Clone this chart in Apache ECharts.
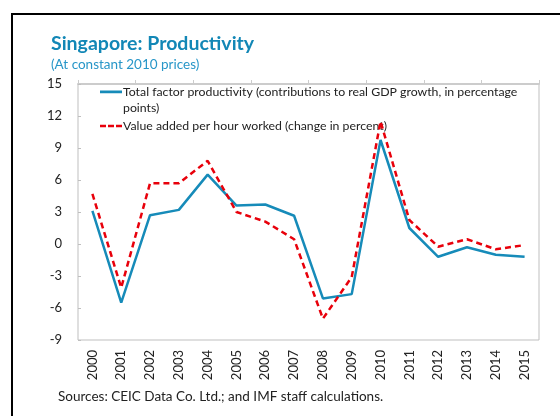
<!DOCTYPE html>
<html>
<head>
<meta charset="utf-8">
<script src="https://cdn.jsdelivr.net/npm/echarts@6/dist/echarts.min.js"></script>
<style>
  html, body { margin: 0; padding: 0; background: #fff; }
  #chart { width: 560px; height: 416px; }
</style>
</head>
<body>
<div id="chart"></div>
<script>
const years = ["2000", "2001", "2002", "2003", "2004", "2005", "2006", "2007",
  "2008", "2009", "2010", "2011", "2012", "2013", "2014", "2015"];
const tfp = [3.1, -5.5, 2.7, 3.2, 6.5, 3.6, 3.7, 2.65, -5.1, -4.7, 9.75, 1.5, -1.2, -0.3, -1.0, -1.2];
const valueAdded = [4.7, -4.1, 5.7, 5.7, 7.8, 3.0, 2.1, 0.45, -7.0, -3.1, 11.5, 2.25, -0.25, 0.45, -0.5, -0.1];
const tfpName = "Total factor productivity (contributions to real GDP growth, in percentage\npoints)";
const vaName = "Value added per hour worked (change in percent)";

const FONT = "Lato";
// legend icons are 22x32 boxes: tiny corner dots fix the box, the bar sits on the text line
const CORNERS = "M0,0h0.01v0.01h-0.01z M21.99,31.99h0.01v0.01h-0.01z ";
const solidIcon = "path://" + CORNERS + "M0,6.6h22v2.6h-22z";
const dashIcon = "path://" + CORNERS + "M0,14.7h6v2.6h-6z M8,14.7h6v2.6h-6z M16,14.7h6v2.6h-6z";

const legendBase = {
  orient: "vertical",
  left: 100,
  padding: 0,
  itemWidth: 22,
  itemHeight: 32,
  textStyle: { fontFamily: FONT, fontSize: 12.3, color: "#222", lineHeight: 16, padding: [0, 0, 0, -4] },
};

const chart = echarts.init(document.getElementById("chart"));

chart.setOption({
  animation: false,
  textStyle: { fontFamily: FONT },
  title: {
    text: "Singapore: Productivity",
    subtext: "(At constant 2010 prices)",
    left: 51,
    top: 34,
    itemGap: 4,
    padding: 0,
    textStyle: { fontFamily: FONT, fontSize: 19.5, fontWeight: "bold", color: "#1287b6" },
    subtextStyle: { fontFamily: FONT, fontSize: 13.5, color: "#2796c8" },
  },
  graphic: [
    {
      type: "rect",
      silent: true,
      shape: { x: 12, y: 14, width: 600, height: 500 },
      style: { fill: "none", stroke: "#000", lineWidth: 2 },
    },
    {
      type: "text",
      left: 58,
      top: 390,
      style: {
        text: "Sources: CEIC Data Co. Ltd.; and IMF staff calculations.",
        font: "13.5px " + FONT,
        fill: "#222",
      },
    },
  ],
  legend: [
    Object.assign({}, legendBase, { top: 84, data: [{ name: tfpName, icon: solidIcon }] }),
    Object.assign({}, legendBase, { top: 110, data: [{ name: vaName, icon: dashIcon }] }),
  ],
  grid: {
    left: 78,
    right: 21,
    top: 84,
    bottom: 76,
    show: true,
    borderColor: "#bfbfbf",
    borderWidth: 1,
  },
  xAxis: [
    {
      type: "category",
      data: years,
      position: "bottom",
      axisLine: { show: false },
      axisTick: { show: false },
      axisLabel: { rotate: 90, margin: 10, fontSize: 13, color: "#222", fontFamily: FONT },
    },
    {
      type: "category",
      data: years,
      position: "top",
      axisLine: { onZero: true, lineStyle: { color: "#cccccc", width: 2 } },
      axisTick: { show: true, inside: false, length: 4, lineStyle: { color: "#cccccc" } },
      axisLabel: { show: false },
    },
  ],
  yAxis: {
    type: "value",
    min: -9,
    max: 15,
    interval: 3,
    axisLine: { show: false },
    axisTick: { show: true, inside: true, length: 3, lineStyle: { color: "#bfbfbf" } },
    splitLine: { show: false },
    axisLabel: { margin: 16, fontSize: 13, color: "#222", fontFamily: FONT },
  },
  series: [
    {
      name: tfpName,
      type: "line",
      xAxisIndex: 0,
      data: tfp,
      symbol: "none",
      lineStyle: { color: "#168bb9", width: 2.5 },
      itemStyle: { color: "#168bb9" },
      z: 3,
    },
    {
      name: vaName,
      type: "line",
      xAxisIndex: 0,
      data: valueAdded,
      symbol: "none",
      lineStyle: { color: "#e8000b", width: 2.5, type: [6, 4] },
      itemStyle: { color: "#e8000b" },
      z: 4,
    },
  ],
});
</script>
</body>
</html>
